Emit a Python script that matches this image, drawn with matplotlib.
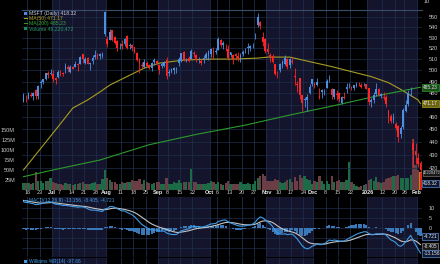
import matplotlib
matplotlib.use("Agg")
import matplotlib.pyplot as plt
from matplotlib.patches import Rectangle
from matplotlib.ticker import FixedLocator, NullLocator, FixedFormatter
from matplotlib.transforms import blended_transform_factory
import numpy as np
import pandas as pd

plt.rcParams['font.family'] = ['Liberation Sans', 'DejaVu Sans']

# ---------------- data ----------------
opens = [473.0, 475.0, 475.5, 478.0, 478.0, 482.5, 477.5, 488.5, 489.5, 492.5, 497.5, 497.0,
         496.5, 493.5, 493.8, 497.3, 497.3, 500.0, 503.0, 498.5, 501.5, 503.0, 505.2, 505.5, 514.5, 506.7, 511.5, 506.7, 508.8, 512.5, 514.1, 515.0, 515.3, 555.2,
         529.0, 528.3, 537.4, 530.9, 526.5, 522.6, 524.3, 523.8, 532.1, 522.5, 522.8, 521.4, 515.8, 510.5, 504.0, 503.0, 506.6, 504.4, 502.0, 507.1, 508.7,
         500.5, 503.8, 504.3, 509.1, 498.1, 501.4, 502.3, 502.3, 506.7, 508.8, 516.9, 510.6, 511.5, 510.6, 515.6, 513.8, 510.4, 508.3, 510.1, 511.5, 513.2,
         514.8, 517.6, 517.1, 518.6, 528.3, 523.3, 522.3, 519.6, 516.4, 510.2, 515.0, 512.6, 509.0, 514.6, 517.5, 521.2, 522.5, 522.8, 531.8, 550.0, 544.9, 530.5, 528.9,
         519.8, 511.8, 513.3, 505.7, 496.9, 500.4, 505.0, 505.7, 510.3, 504.8, 508.5, 495.1, 488.2, 493.3, 478.5, 475.0, 474.1, 480.5, 487.6,
         488.4, 486.8, 476.3, 482.5, 482.5, 484.9, 492.4, 484.0, 476.5, 479.5, 480.5, 471.9, 476.1, 485.3, 486.0, 485.6, 484.8, 486.2, 488.0, 485.5, 486.8, 487.6,
         484.4, 474.1, 474.5, 479.3, 483.6, 477.7, 476.1, 477.0, 466.0, 461.0, 457.8, 451.2, 452.9, 446.3, 451.7, 465.4, 470.6, 481.7, 439.6, 432.9,
         427.5, 423.5]
highs = [480.4, 478.5, 480.7, 481.0, 481.0, 483.5, 487.0, 491.8, 492.5, 498.0, 499.3, 500.8,
         500.0, 493.9, 500.1, 500.3, 498.9, 506.8, 504.4, 505.0, 503.9, 508.3, 506.8, 513.4, 514.6, 512.1, 511.8, 506.8, 513.7, 518.3, 515.9, 515.9, 517.0, 555.5,
         531.9, 538.3, 537.5, 531.7, 528.1, 524.7, 527.6, 530.0, 532.7, 525.0, 523.8, 521.6, 516.9, 511.2, 507.6, 510.5, 508.2, 505.8, 507.3, 511.1, 509.6,
         506.0, 507.8, 508.2, 512.0, 501.2, 502.3, 503.2, 503.2, 512.5, 515.5, 517.2, 511.3, 513.1, 519.3, 517.7, 514.6, 512.5, 510.0, 513.9, 516.9, 518.2,
         520.5, 521.6, 520.5, 531.0, 528.8, 526.9, 524.3, 523.6, 516.4, 515.3, 515.4, 516.9, 515.5, 518.7, 520.2, 525.2, 522.8, 525.4, 534.6, 553.7, 546.3, 535.0, 529.3,
         525.0, 515.6, 514.8, 505.7, 499.4, 506.9, 509.0, 513.9, 511.3, 511.4, 512.1, 502.2, 491.0, 493.5, 478.9, 476.9, 479.1, 488.3, 492.6,
         489.9, 493.5, 484.2, 483.4, 483.7, 492.3, 495.5, 484.3, 484.1, 483.0, 480.9, 477.9, 481.2, 488.6, 489.0, 486.4, 487.2, 489.7, 489.7, 488.7, 488.5, 488.1,
         484.7, 476.0, 481.5, 489.3, 484.5, 480.6, 481.4, 478.9, 466.2, 462.3, 463.2, 456.2, 453.9, 452.4, 467.5, 474.2, 482.7, 485.1, 442.5, 439.6,
         431.5, 425.6]
lows = [472.5, 472.2, 475.5, 476.5, 474.5, 475.5, 475.5, 484.5, 488.0, 491.5, 493.5, 495.6,
        489.9, 488.0, 493.4, 495.1, 494.6, 497.6, 498.4, 497.8, 501.0, 502.8, 499.7, 505.5, 507.0, 505.6, 505.3, 500.7, 505.5, 510.6, 510.6, 510.3, 510.9, 531.9,
        520.9, 527.5, 526.6, 524.0, 517.6, 519.4, 519.2, 522.7, 519.7, 519.6, 517.7, 515.4, 508.3, 497.6, 502.5, 502.4, 503.8, 501.5, 499.9, 505.1, 504.5,
        496.4, 502.3, 503.2, 492.4, 495.0, 497.7, 496.7, 497.7, 503.9, 507.1, 508.6, 507.4, 507.3, 510.3, 512.5, 507.3, 506.9, 505.0, 506.6, 510.7, 509.7,
        511.7, 510.7, 515.0, 518.2, 521.2, 519.9, 517.4, 509.5, 511.8, 506.0, 509.5, 508.1, 507.3, 513.4, 515.6, 514.8, 517.9, 520.8, 529.1, 540.2, 538.5, 522.1, 515.4,
        515.3, 507.1, 506.6, 495.8, 493.3, 498.9, 502.4, 505.1, 501.6, 501.8, 505.5, 486.8, 481.2, 475.5, 464.9, 468.0, 464.9, 479.5, 486.7,
        484.7, 486.3, 475.2, 475.7, 478.8, 484.2, 489.4, 475.1, 475.5, 474.4, 472.5, 470.9, 474.8, 480.0, 484.2, 482.6, 482.5, 485.6, 486.2, 484.4, 486.0, 483.3,
        470.2, 468.2, 472.1, 477.9, 477.4, 476.0, 474.6, 468.1, 455.5, 455.3, 455.0, 449.4, 440.3, 443.5, 450.6, 464.2, 469.5, 477.4, 421.3, 422.8,
        420.6, 412.7]
closes = [478.9, 475.0, 479.1, 478.0, 480.2, 477.4, 486.0, 490.1, 492.3, 497.5, 495.9, 497.4,
          492.1, 491.1, 498.8, 497.7, 496.6, 503.5, 501.5, 503.3, 503.0, 505.8, 505.6, 511.7, 510.1, 510.1, 505.3, 505.9, 510.9, 513.7, 512.5, 512.6, 513.2, 533.5,
          524.1, 535.6, 527.8, 524.9, 520.8, 522.0, 521.8, 529.2, 520.6, 522.5, 520.2, 517.1, 509.8, 505.7, 504.2, 507.2, 504.3, 502.0, 506.7, 509.6, 506.7,
          505.1, 505.4, 508.0, 495.0, 498.2, 498.4, 500.4, 501.0, 509.9, 515.4, 509.0, 510.0, 508.5, 517.9, 514.5, 509.2, 510.2, 507.0, 511.5, 514.6, 517.9,
          519.7, 515.7, 517.4, 528.6, 523.0, 524.9, 522.4, 511.0, 514.1, 513.6, 513.4, 511.6, 513.6, 516.8, 517.7, 520.5, 520.6, 523.6, 531.5, 542.1, 541.6, 525.8, 517.8,
          517.0, 514.3, 507.2, 497.1, 496.8, 506.0, 508.7, 511.1, 503.3, 510.2, 507.5, 493.8, 487.1, 478.4, 472.1, 474.0, 477.0, 485.5, 492.0,
          486.7, 490.0, 477.7, 480.8, 483.2, 491.0, 492.0, 478.6, 483.5, 478.5, 474.8, 476.4, 476.1, 484.0, 485.9, 484.9, 486.9, 488.0, 487.7, 487.1, 487.5, 483.6,
          472.9, 472.9, 478.5, 483.5, 478.1, 479.3, 477.2, 470.7, 459.4, 456.7, 459.9, 454.5, 444.1, 451.1, 465.9, 470.3, 480.6, 481.6, 433.5, 430.3,
          423.4, 418.32]
# closes before the visible window (for MACD warm-up)
prior_closes = [382.2, 382.1, 373.1, 359.8, 357.9, 354.6, 390.5, 381.4, 388.5, 387.8, 385.7, 371.6, 367.8,
                359.1, 366.8, 374.4, 387.3, 391.9, 391.2, 394.0, 395.3, 425.4, 435.3, 436.2, 433.3, 433.4,
                438.2, 438.7, 449.4, 449.1, 452.9, 453.1, 454.3, 458.9, 458.2, 452.6, 454.9, 450.2, 460.7,
                457.4, 458.7, 460.4, 461.0, 463.0, 463.9, 467.7, 470.4, 472.8, 470.9, 472.6]
volume_m = [18, 17, 17, 15, 17, 46, 23, 22, 18, 22, 22, 29,
            19, 17, 14, 15, 12, 18, 16, 16, 12, 14, 15, 17, 21, 14, 16, 15, 17, 19, 14, 16, 27, 51,
            29, 25, 19, 21, 16, 15, 20, 18, 19, 20, 25, 23, 22, 28, 15, 24, 21, 18, 15, 17, 21,
            19, 16, 16, 31, 16, 14, 21, 18, 24, 17, 20, 19, 19, 52, 19, 19, 14, 15, 14, 16, 18,
            22, 21, 15, 21, 15, 13, 18, 22, 14, 14, 14, 15, 19, 14, 15, 18, 14, 15, 22, 29, 36, 41, 35,
            23, 22, 23, 27, 24, 19, 17, 20, 25, 28, 19, 33, 23, 37, 31, 34, 28, 25, 14,
            23, 19, 34, 22, 15, 22, 15, 34, 21, 22, 24, 20, 20, 25, 70, 19, 15, 9, 8, 10, 13, 15,
            25, 27, 23, 32, 19, 18, 21, 28, 29, 33, 34, 35, 38, 30, 29, 31, 30, 37, 128, 62,
            51, 46.22]
ma50_idx = [0, 13, 20, 26, 31, 35, 49, 55, 65, 76, 85, 95, 99, 108, 116, 125, 133, 141, 148, 153, 160, 161]
ma50_val = [418.6, 449.6, 467.5, 474.3, 481.1, 487.1, 502.1, 506.5, 509.3, 510.2, 510.2, 511.1, 512.0, 512.0,
            507.9, 503.4, 498.9, 494.5, 489.2, 483.3, 474.3, 471.17]
ma200_idx = [0, 12, 31, 51, 70, 90, 108, 127, 145, 161]
ma200_val = [413.6, 418.6, 426.1, 437.9, 446.0, 453.5, 461.7, 470.0, 478.5, 485.23]
tick_idx = [2, 7, 12, 15, 20, 25, 30, 34, 40, 45, 50, 55, 59, 64, 69, 76, 79, 84, 89, 94, 99, 104, 109, 114,
            118, 123, 128, 133, 140, 146, 151, 155, 160]
tick_lbl = ["16", "23", "Jul", "7", "14", "21", "28", "Aug", "11", "18", "25", "Sep", "8", "15", "22", "Oct",
            "6", "13", "20", "27", "Nov", "10", "17", "24", "Dec", "8", "15", "22", "2026", "12", "20", "26", "Feb"]
month_start_idx = [0, 12, 34, 55, 76, 99, 118, 140, 160]
price_ticks = [420, 430, 440, 450, 460, 470, 480, 490, 500, 510, 520, 530, 540, 550]
price_labels = ["420", "430", "440", "450", "460", "", "480", "490", "500", "510", "520", "530", "540", "550"]
vol_ticks_m = [25, 50, 75, 100, 125, 150]
macd_ticks = [10, 5, 0]

# ---------------- derived ----------------
n = len(closes)
xs = np.arange(n)
o = np.array(opens); h = np.array(highs); l = np.array(lows); c = np.array(closes)
prev = np.concatenate([[prior_closes[-1]], c[:-1]])
up = c >= prev
allc = pd.Series(prior_closes + closes)
ema12 = allc.ewm(span=12, adjust=False).mean()
ema26 = allc.ewm(span=26, adjust=False).mean()
macd_all = ema12 - ema26
sig_all = macd_all.ewm(span=9, adjust=False).mean()
macd = macd_all.values[-n:]
sig = sig_all.values[-n:]
hist = macd - sig

# ---------------- figure ----------------
W, H = 440, 264
fig = plt.figure(figsize=(W / 100, H / 100), dpi=100, facecolor='black')


def rect(lp, tp, rp, bp):
    return [lp / W, 1 - bp / H, (rp - lp) / W, (bp - tp) / H]


L, R = 22, 422
NAVY = '#14142c'
GRID = '#1d2d4a'
SEP = '#3a4c6c'
TXT = '#c8c8c8'
FS = 4
BFS = 3.4

axt = fig.add_axes(rect(L, 0, R, 9.5))      # bottom of the panel above
axv = fig.add_axes(rect(L, 10, R, 190))     # price + volume
axp = axv.twinx()
axm = fig.add_axes(rect(L, 197, R, 257))    # MACD
axw = fig.add_axes(rect(L, 258, R, 264))    # Williams %R (top part)

xlim = (-0.6, n - 0.4)
for a in (axt, axv, axm, axw):
    a.set_facecolor('black')
    a.set_xlim(*xlim)
    for k, s in enumerate(month_start_idx):
        e = month_start_idx[k + 1] if k + 1 < len(month_start_idx) else n
        if k % 2 == 1:
            a.axvspan(s - 0.5, e - 0.5, color=NAVY, lw=0, zorder=0)
    for t in tick_idx:
        a.axvline(t - 0.5, color=GRID, lw=0.6, zorder=0.5)
    for sp in a.spines.values():
        sp.set_visible(False)
    a.tick_params(axis='x', bottom=False, labelbottom=False)
for sp in axp.spines.values():
    sp.set_visible(False)
axt.set_yticks([])
axw.set_yticks([])
axv.spines['top'].set_visible(True)
axv.spines['top'].set_color(SEP)
axv.spines['top'].set_linewidth(0.8)
fig.text(424 / W, 1 - 1.5 / H, "10", color=TXT, fontsize=FS, ha='left', va='center')

# volume
axv.set_ylim(0, 450)
vcols = np.where(up, '#1d6a47', '#6a3e44')
axv.bar(xs, volume_m, width=0.92, color=vcols, lw=0, zorder=1)
axv.bar(xs[-1:], volume_m[-1:], width=0.92, color='#d8241c', edgecolor='#e0a400', lw=0.5, zorder=1.1)
axv.yaxis.set_major_locator(FixedLocator(vol_ticks_m))
axv.yaxis.set_major_formatter(FixedFormatter([f"{v}M" for v in vol_ticks_m]))
axv.tick_params(axis='y', left=False, labelleft=True, labelsize=FS, colors=TXT, pad=1.5)

# date labels between the panels
lt = blended_transform_factory(axv.transData, fig.transFigure)
for t, s in zip(tick_idx, tick_lbl):
    bold = (not s.isdigit()) or s == "2026"
    fig.text(t - 0.5, 1 - 192.5 / H, s, transform=lt, ha='center', va='center', fontsize=FS,
             color='#e8e8e8' if bold else TXT, fontweight='bold' if bold else 'normal')

# price
axp.set_yscale('log')
axp.set_ylim(403.9, 556.9)
axp.set_xlim(*xlim)
for pt in price_ticks:
    axp.axhline(pt, color=GRID, lw=0.5, zorder=0.2)
wc = np.where(up, '#4a8fe2', '#ff2424')
axp.vlines(xs, l, h, colors=wc, lw=0.6, zorder=3)
body_lo = np.minimum(o, c)
body_h = np.maximum(np.abs(c - o), 0.4)
axp.bar(xs, body_h, bottom=body_lo, width=0.7, color=wc, lw=0, zorder=3.1)
axp.plot(ma50_idx, ma50_val, color='#a89c22', lw=0.8, zorder=2.5)
axp.plot(ma200_idx, ma200_val, color='#2c9a2c', lw=0.8, zorder=2.5)
axp.yaxis.set_major_locator(FixedLocator(price_ticks))
axp.yaxis.set_minor_locator(NullLocator())
axp.yaxis.set_major_formatter(FixedFormatter(price_labels))
axp.yaxis.set_minor_formatter(FixedFormatter([]))
axp.tick_params(axis='y', which='both', right=False, labelright=True, labelsize=FS, colors=TXT, pad=1.5)


def vbox(ax, yval, text, fc, ec, tc, dy=0.0, fs=BFS):
    ax.annotate(text, xy=(1.0, yval), xycoords=('axes fraction', 'data'),
                xytext=(1.0, dy), textcoords='offset points', ha='left', va='center',
                fontsize=fs, color=tc,
                bbox=dict(boxstyle='square,pad=0.2', fc=fc, ec=ec, lw=0.5), zorder=10,
                annotation_clip=False)


vbox(axp, ma200_val[-1], f"{ma200_val[-1]:.2f}", '#1b4d1b', '#2c9a2c', '#e0e0e0')
vbox(axp, ma50_val[-1], f"{ma50_val[-1]:.2f}", '#6b6412', '#a89c22', '#f0f0f0')
vbox(axv, volume_m[-1], "46220472", '#1a1a1a', '#707070', '#d0d0d0', dy=-1.0, fs=2.9)
vbox(axp, closes[-1], f"{closes[-1]:.2f}", '#0e1830', '#5a8ad0', '#e8e8e8', dy=-9.4)

# MACD panel
axm.set_ylim(-14.5, 15.5)
for v in (-10, -5, 0, 5, 10):
    axm.axhline(v, color=GRID, lw=0.5, zorder=0.5)
axm.bar(xs, hist, width=0.85, color='#3a78b8', lw=0, zorder=2)
axm.plot(xs, sig, color='#c4c4c4', lw=0.8, zorder=3)
axm.plot(xs, macd, color='#3f9be6', lw=0.8, zorder=3.1)
axm.yaxis.tick_right()
axm.yaxis.set_major_locator(FixedLocator(macd_ticks))
axm.yaxis.set_major_formatter(FixedFormatter([str(v) for v in macd_ticks]))
axm.tick_params(axis='y', right=False, labelsize=FS, colors=TXT, pad=1.5)
vbox(axm, hist[-1], "-4.721", '#0e1830', '#5a8ad0', '#e8e8e8')
vbox(axm, sig[-1], "-8.405", '#1a1a1a', '#8a8a8a', '#e0e0e0', dy=-1.5)
vbox(axm, macd[-1], "-13.156", '#0e1830', '#5a8ad0', '#e8e8e8', dy=-0.5)


# legends
def ftxt(xp, yp, s, col, fs=FS):
    fig.text(xp / W, 1 - yp / H, s, color=col, fontsize=fs, va='center', ha='left')


def fmark(xp, yp, col, kind='sq'):
    if kind == 'sq':
        fig.add_artist(Rectangle((xp / W, 1 - (yp + 1.5) / H), 3 / W, 3 / H,
                                 transform=fig.transFigure, color=col, lw=0))
    else:
        fig.add_artist(Rectangle((xp / W, 1 - (yp + 0.5) / H), 3.5 / W, 1 / H,
                                 transform=fig.transFigure, color=col, lw=0))


fmark(24, 13.3, '#4a8fe2')
ftxt(28.5, 13.3, "MSFT (Daily) 418.32", '#c8d0e0', 3.7)
fmark(24, 18.3, '#b0a420', 'ln')
ftxt(28.5, 18.3, "MA(50) 471.17", '#b0a420', 3.7)
fmark(24, 23.3, '#2c9a2c', 'ln')
ftxt(28.5, 23.3, "MA(200) 485.23", '#38a838', 3.7)
fmark(24, 28.3, '#1d8a5a')
ftxt(28.5, 28.3, "Volume 46,220,472", '#2a9a6a', 3.7)

fmark(24, 200.5, '#3f9be6', 'ln')
ftxt(28.5, 200.5, "MACD(12,26,9) -13.156, -8.405, -4.721", '#3f9be6', 3.5)
fmark(24, 261.5, '#3f9be6')
ftxt(28.5, 261.5, "Williams %R(14) -97.66", '#3f9be6', 3.5)

fig.savefig('out.png', dpi=100, facecolor='black')
